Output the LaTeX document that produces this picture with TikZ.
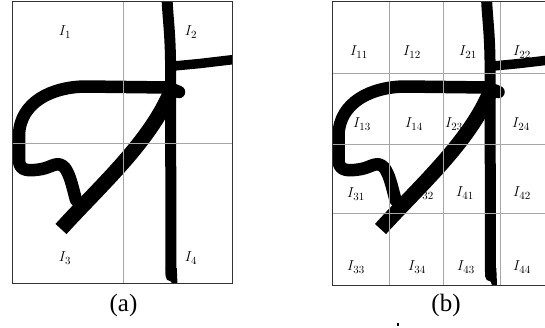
\documentclass[tikz,border=0pt]{standalone}
\usepackage{fontspec}
\setmainfont{Liberation Serif}
\begin{document}
\begin{tikzpicture}[x=1pt,y=-1pt,
  gridline/.style={draw=black!35,line width=0.8pt},
  framebox/.style={draw=black!80,line width=0.9pt},
  lbl/.style={font=\fontsize{15}{17}\selectfont,inner sep=0pt},
  captext/.style={font=\fontsize{25}{28}\selectfont,inner sep=0pt},
  ink/.style={draw=black,line cap=round,line join=round}]
\useasboundingbox (0,0) rectangle (545,327);
\newcommand{\glyphink}{%
  \draw[ink,line width=11pt] (167,-2) .. controls (168,20) and (170,30) .. (170.5,60) -- (171,276);
  \fill[black] (165.5,268) -- (176.8,268) -- (177.5,285) -- (172.5,285) -- cycle;
  \draw[ink,line width=9.5pt] (174,66) -- (200,63.5) -- (234,59.5);
  \draw[ink,line width=12.5pt] (179,92) -- (168,87.5) -- (85,86.5)
     .. controls (52,87) and (20,102) .. (19,135) -- (19,160)
     .. controls (19,172) and (30,171) .. (42,169)
     .. controls (52,167) and (58,160) .. (65,168)
     .. controls (70,175) and (72,185) .. (76,200);
  \draw[draw=black,line width=15pt,line cap=butt] (61,229) .. controls (100,186) and (150,142) .. (171,91);
}
% ---------- panel (a)
\node[lbl] (a1) at (65,32) {$I_1$};
\node[lbl] (a2) at (191,32) {$I_2$};
\node[lbl] (a3) at (65,258) {$I_3$};
\node[lbl] (a4) at (191,258) {$I_4$};
\begin{scope}
  \clip (12.5,1.5) rectangle (232,283.5);
  \glyphink
\end{scope}
\draw[gridline] (123,1.5) -- (123,283.5);
\draw[gridline] (12.5,143) -- (232,143);
\draw[framebox] (12.5,1.5) rectangle (232,283.5);
\node[captext] (capa) at (123.5,305) {(a)};
% ---------- panel (b)
\node[lbl] (b11) at (359,52) {$I_{11}$};
\node[lbl] (b12) at (412,52) {$I_{12}$};
\node[lbl] (b21) at (468,52) {$I_{21}$};
\node[lbl] (b22) at (522,52) {$I_{22}$};
\node[lbl] (b13) at (362,124) {$I_{13}$};
\node[lbl] (b14) at (414,124) {$I_{14}$};
\node[lbl] (b23) at (454,124) {$I_{23}$};
\node[lbl] (b24) at (521,124) {$I_{24}$};
\node[lbl] (b31) at (356,194) {$I_{31}$};
\node[lbl] (b32) at (425,193) {$I_{32}$};
\node[lbl] (b41) at (465,193) {$I_{41}$};
\node[lbl] (b42) at (522,193) {$I_{42}$};
\node[lbl] (b33) at (356,267) {$I_{33}$};
\node[lbl] (b34) at (417,267) {$I_{34}$};
\node[lbl] (b43) at (466,267) {$I_{43}$};
\node[lbl] (b44) at (522,267) {$I_{44}$};
\begin{scope}[xshift=319.5pt]
  \begin{scope}
    \clip (12.5,1.5) rectangle (225.5,285);
    \glyphink
  \end{scope}
\end{scope}
\begin{scope}
  \clip (0,0) rectangle (545,327);
  \foreach \gx in {389,443,500} \draw[gridline] (\gx,1.5) -- (\gx,285);
  \foreach \gy in {73,144,213} \draw[gridline] (332,\gy) -- (545,\gy);
  \draw[framebox] (332,1.5) rectangle (553,285);
\end{scope}
\node[captext] (capb) at (446,305) {(b)};
\fill[black] (396.5,323) rectangle (398.5,325.5);
\end{tikzpicture}
\end{document}
